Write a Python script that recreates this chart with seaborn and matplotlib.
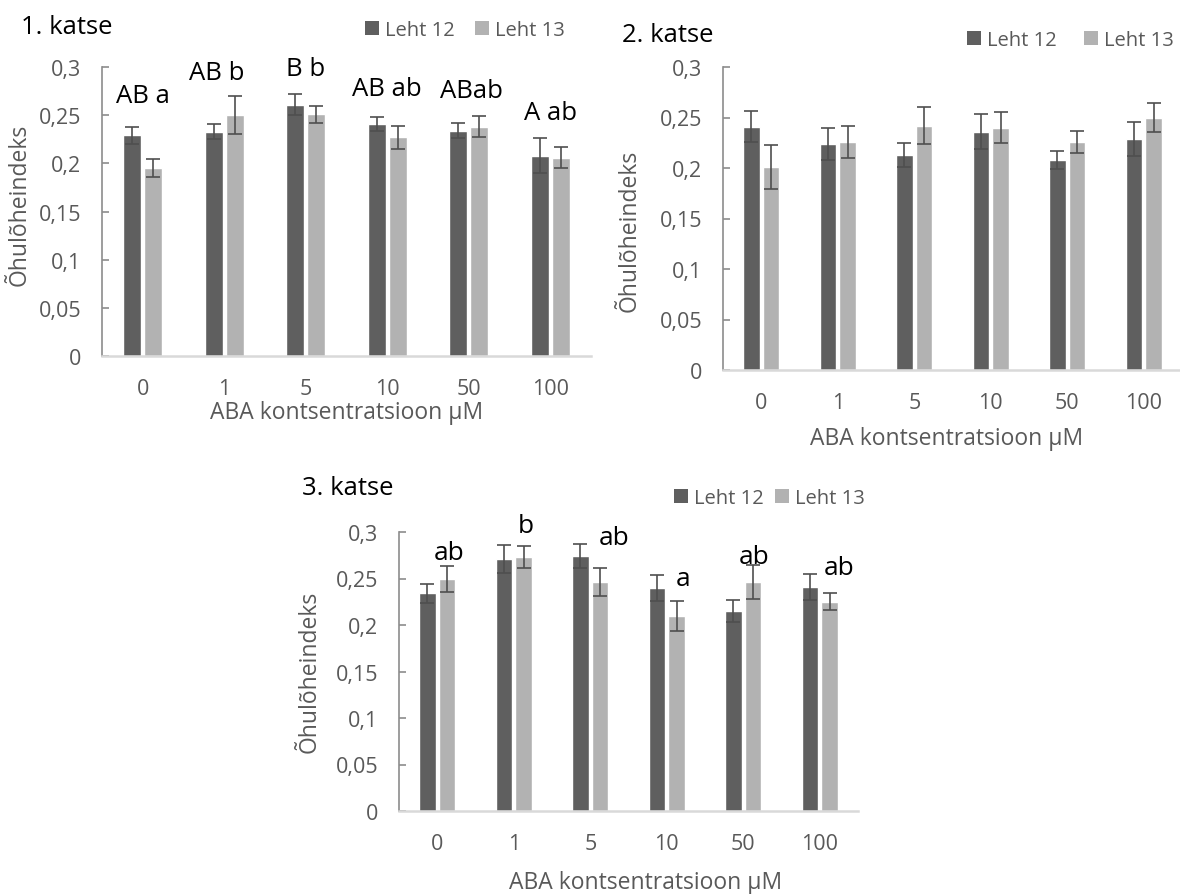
import numpy as np
import pandas as pd
import matplotlib
matplotlib.use("Agg")
import matplotlib.pyplot as plt
from matplotlib.patches import Patch
import seaborn as sns

# ---------------- data ----------------
concentrations = ["0", "1", "5", "10", "50", "100"]
leaves = ["Leht 12", "Leht 13"]

# experiment 1
exp1_leht12 = [0.229, 0.233, 0.261, 0.241, 0.234, 0.208]
exp1_leht13 = [0.195, 0.250, 0.251, 0.227, 0.238, 0.206]
exp1_err12 = [0.009, 0.008, 0.011, 0.007, 0.008, 0.018]
exp1_err13 = [0.009, 0.020, 0.009, 0.012, 0.011, 0.011]
exp1_letters = ["AB a", "AB b", "B b", "AB ab", "ABab", "A ab"]

# experiment 2
exp2_leht12 = [0.241, 0.224, 0.213, 0.236, 0.208, 0.229]
exp2_leht13 = [0.201, 0.226, 0.242, 0.240, 0.226, 0.250]
exp2_err12 = [0.015, 0.016, 0.012, 0.017, 0.009, 0.017]
exp2_err13 = [0.022, 0.016, 0.018, 0.015, 0.011, 0.014]

# experiment 3
exp3_leht12 = [0.234, 0.271, 0.274, 0.240, 0.215, 0.241]
exp3_leht13 = [0.249, 0.273, 0.246, 0.210, 0.246, 0.225]
exp3_err12 = [0.010, 0.015, 0.013, 0.014, 0.012, 0.014]
exp3_err13 = [0.014, 0.012, 0.015, 0.016, 0.018, 0.009]
exp3_letters = ["ab", "b", "ab", "a", "ab", "ab"]

titles = ["1. katse", "2. katse", "3. katse"]
y_ticks = [0, 0.05, 0.1, 0.15, 0.2, 0.25, 0.3]
y_tick_labels = ["0", "0,05", "0,1", "0,15", "0,2", "0,25", "0,3"]
xlabel = "ABA kontsentratsioon µM"
ylabel = "Õhulõheindeks"

# ---------------- style ----------------
W, H = 1180, 895
DARK = "#5f5f5f"
LIGHT = "#b2b2b2"
TXT = "#595959"
ERR = "#4f4f4f"
FONT = ["Open Sans", "DejaVu Sans"]

sns.set_theme(style="white")
plt.rcParams["font.family"] = FONT

fig = plt.figure(figsize=(W / 100, H / 100), dpi=100)


def fx(px):
    return px / W


def fy(py):
    return 1 - py / H


def make_axes(left, right, top, bottom):
    return fig.add_axes([fx(left), fy(bottom), (right - left) / W, (bottom - top) / H])


panels = [
    dict(vals=(exp1_leht12, exp1_leht13), errs=(exp1_err12, exp1_err13),
         box=(102, 591, 68, 357), title_xy=(21, 27), leg_xy=(565, 31), colsp=1.0,
         ylab_xy=(20, 205), xlab_xy=(347, 413)),
    dict(vals=(exp2_leht12, exp2_leht13), errs=(exp2_err12, exp2_err13),
         box=(723, 1182, 68, 371), title_xy=(622, 36), leg_xy=(1174, 41), colsp=1.35,
         ylab_xy=(630, 231), xlab_xy=(947, 439)),
    dict(vals=(exp3_leht12, exp3_leht13), errs=(exp3_err12, exp3_err13),
         box=(399, 858, 533, 812), title_xy=(302, 489), leg_xy=(865, 499), colsp=0.55,
         ylab_xy=(310, 672), xlab_xy=(646, 883)),
]

axes = []
for k, p in enumerate(panels):
    ax = make_axes(*p["box"])
    axes.append(ax)
    v12, v13 = p["vals"]
    df = pd.DataFrame({
        "conc": concentrations * 2,
        "leaf": [leaves[0]] * len(concentrations) + [leaves[1]] * len(concentrations),
        "value": list(v12) + list(v13),
    })
    sns.barplot(data=df, x="conc", y="value", hue="leaf", order=concentrations,
                hue_order=leaves, palette=[DARK, LIGHT], saturation=1,
                width=0.51, gap=0.13, errorbar=None, legend=False, ax=ax)

    # error bars at the centres of the seaborn bars
    e12, e13 = p["errs"]
    bars = [b for b in ax.patches if b.get_width() > 0]
    xs, ys, es = [], [], []
    for b in bars:
        xc = b.get_x() + b.get_width() / 2
        i = int(round(xc))
        j = 0 if xc < i else 1
        xs.append(xc)
        ys.append(b.get_height())
        es.append((e12, e13)[j][i])
    ax.errorbar(xs, ys, yerr=es, fmt="none", ecolor=ERR, elinewidth=1.2,
                capsize=4.7, capthick=1.2, zorder=5)

    ax.set_xlim(-0.5, 5.5)
    ax.set_ylim(0, 0.3)
    ax.set_yticks(y_ticks)
    ax.set_yticklabels(y_tick_labels)
    ax.set_xlabel("")
    ax.set_ylabel("")
    ax.tick_params(axis="y", direction="in", length=5, width=1.2, color="#8c8c8c",
                   pad=15, labelsize=15.5, labelcolor=TXT, left=True)
    ax.tick_params(axis="x", length=0, pad=16, labelsize=15.5, labelcolor=TXT)
    for s in ["top", "right"]:
        ax.spines[s].set_visible(False)
    ax.spines["left"].set_color("#8c8c8c")
    ax.spines["left"].set_linewidth(1.2)
    ax.spines["bottom"].set_color("#d9d9d9")
    ax.spines["bottom"].set_linewidth(1.8)
    ax.grid(False)
    ax.set_facecolor("none")
    for lab in ax.get_xticklabels() + ax.get_yticklabels():
        lab.set_family(FONT)

    # titles, axis labels
    fig.text(fx(p["title_xy"][0]), fy(p["title_xy"][1]), titles[k], fontsize=18.5,
             color="black", ha="left", va="center")
    fig.text(fx(p["ylab_xy"][0]), fy(p["ylab_xy"][1]), ylabel, fontsize=16.5,
             color=TXT, rotation=90, ha="center", va="center")
    fig.text(fx(p["xlab_xy"][0]), fy(p["xlab_xy"][1]), xlabel, fontsize=16.5,
             color=TXT, ha="center", va="center")

    # legend
    handles = [Patch(facecolor=DARK, edgecolor="none"), Patch(facecolor=LIGHT, edgecolor="none")]
    ax.legend(handles, leaves, ncol=2, loc="center right",
              bbox_to_anchor=(fx(p["leg_xy"][0]), fy(p["leg_xy"][1])),
              bbox_transform=fig.transFigure, frameon=False, handlelength=0.7,
              handleheight=0.7, handletextpad=0.3, columnspacing=p["colsp"],
              borderpad=0, borderaxespad=0, fontsize=14.5, labelcolor=TXT)

# significance letters, experiment 1 (centred above groups)
exp1_letter_dx = [0.0, -0.09, 0.0, 0.0, 0.03, 0.0]
exp1_letter_y = [0.2636, 0.2879, 0.2913, 0.2712, 0.2688, 0.2465]
for i, txt in enumerate(exp1_letters):
    axes[0].text(i + exp1_letter_dx[i], exp1_letter_y[i], txt, fontsize=18.5,
                 color="black", ha="center", va="baseline")

# significance letters, experiment 3 (above Leht 13 bars)
exp3_letter_dx = [0.16, 0.157, 0.31, 0.21, 0.14, 0.25]
exp3_letter_y = [0.2713, 0.300, 0.2874, 0.2432, 0.267, 0.255]
for i, txt in enumerate(exp3_letters):
    axes[2].text(i + exp3_letter_dx[i], exp3_letter_y[i], txt, fontsize=19,
                 color="black", ha="center", va="baseline")

fig.savefig("out.png", dpi=100, facecolor="white")
